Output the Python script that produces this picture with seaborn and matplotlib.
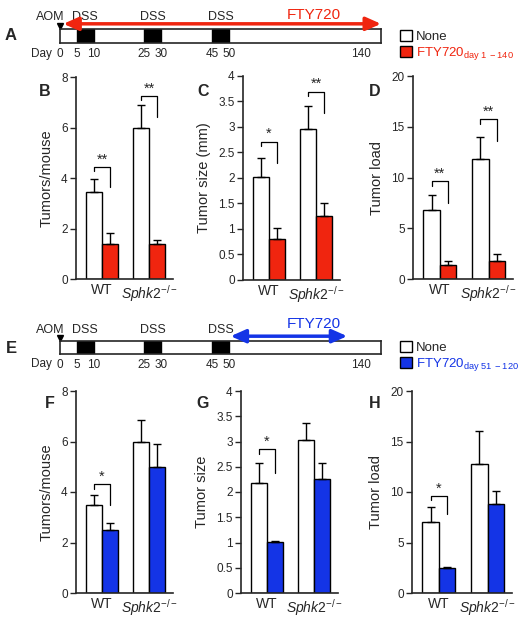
import numpy as np
import pandas as pd
import seaborn as sns
import matplotlib.pyplot as plt
from matplotlib.patches import Patch
from matplotlib.ticker import FuncFormatter


sns.set_style("ticks")
plt.rcParams['font.family'] = ['Liberation Sans', 'DejaVu Sans']
plt.rcParams['mathtext.fontset'] = 'custom'
plt.rcParams['mathtext.rm'] = 'Liberation Sans'
plt.rcParams['mathtext.it'] = 'Liberation Sans:italic'
plt.rcParams['axes.linewidth'] = 1.2

RED = '#f0250f'
BLUE = '#1434e6'

W, H = 526, 622

# timeline data (days)
DSS_START = [5, 25, 45]
DSS_END = [10, 30, 50]
DAY_TICKS = [0, 5, 10, 25, 30, 45, 50, 140]
FTY_DAYS_A = [1, 140]
FTY_DAYS_E = [51, 120]

GENOTYPES = ['WT', 'Sphk2']
GENO_LABELS = ['WT', r'$\mathit{Sphk2}^{-/-}$']

# B - tumors/mouse, FTY720 day 1-140
B_none = [3.45, 6.0]
B_none_err = [0.52, 0.9]
B_fty = [1.4, 1.38]
B_fty_err = [0.42, 0.17]
# C - tumor size (mm)
C_none = [2.02, 2.97]
C_none_err = [0.38, 0.45]
C_fty = [0.81, 1.26]
C_fty_err = [0.2, 0.25]
# D - tumor load
D_none = [6.75, 11.85]
D_none_err = [1.55, 2.15]
D_fty = [1.4, 1.8]
D_fty_err = [0.4, 0.65]

# F - tumors/mouse, FTY720 day 51-120
F_none = [3.5, 6.0]
F_none_err = [0.38, 0.85]
F_fty = [2.5, 5.0]
F_fty_err = [0.28, 0.92]
# G - tumor size
G_none = [2.17, 3.03]
G_none_err = [0.4, 0.33]
G_fty = [1.01, 2.25]
G_fty_err = [0.01, 0.32]
# H - tumor load
H_none = [7.05, 12.8]
H_none_err = [1.5, 3.2]
H_fty = [2.5, 8.8]
H_fty_err = [0.1, 1.25]

# significance brackets: (genotype index, top y, right leg bottom y, stars)
B_sig = [(0, 4.44, 3.64, '**'), (1, 7.25, 6.4, '**')]
C_sig = [(0, 2.71, 2.3, '*'), (1, 3.69, 3.27, '**')]
D_sig = [(0, 9.65, 7.5, '**'), (1, 15.75, 13.6, '**')]
F_sig = [(0, 4.3, 3.5, '*')]
G_sig = [(0, 2.85, 2.38, '*')]
H_sig = [(0, 9.6, 7.8, '*')]


fig = plt.figure(figsize=(W / 100, H / 100), dpi=100)


def px_rect(left, top, right, bottom):
    return [left / W, 1 - bottom / H, (right - left) / W, (bottom - top) / H]


def day_pos(d):
    # broken time scale: days after 50 are squeezed
    return np.interp(d, [0, 50, 120, 140], [0, 50, 85, 89])


def timeline(rect, letter_xy, fty_days, color, text_y, legend_label, legend_top):
    ax = fig.add_axes(rect)
    ax.set_xlim(0, 95)
    ax.set_ylim(0, 1)
    for s, e in zip(DSS_START, DSS_END):
        ax.axvspan(day_pos(s), day_pos(e), color='black')
        ax.text(day_pos((s + e) / 2), 1.85, 'DSS', ha='center', va='center', fontsize=9)
    ax.set_xticks(day_pos(DAY_TICKS))
    ax.set_xticklabels([str(d) for d in DAY_TICKS], fontsize=8.5)
    ax.tick_params(axis='x', length=0, pad=3.5)
    ax.set_yticks([])
    ax.text(-5.6, -0.8, 'Day', ha='center', va='center', fontsize=8.5)
    # AOM injection
    ax.plot(0, 1.25, marker='v', color='black', markersize=5, clip_on=False)
    ax.text(-2.8, 1.85, 'AOM', ha='center', va='center', fontsize=9)
    # FTY720 period
    start = day_pos(fty_days[0])
    end = day_pos(fty_days[1]) if fty_days[1] < 140 else ax.get_xlim()[1]
    ax.annotate('', xy=(end, 1.37), xytext=(start, 1.37), annotation_clip=False,
                arrowprops=dict(arrowstyle='<|-|>,head_length=0.9,head_width=0.4',
                                color=color, lw=2.5, shrinkA=0, shrinkB=0, mutation_scale=10))
    ax.text(75, text_y, 'FTY720', ha='center', va='center', fontsize=11, color=color)
    fig.text(letter_xy[0] / W, 1 - letter_xy[1] / H, letter_xy[2], ha='center', va='center',
             fontsize=12, weight='bold')
    # legend
    handles = [Patch(facecolor='white', edgecolor='black', linewidth=1),
               Patch(facecolor=color, edgecolor='black', linewidth=1)]
    leg = fig.legend(handles, ['None', legend_label], loc='upper left',
                     bbox_to_anchor=(400 / W, 1 - legend_top / H), frameon=False,
                     handlelength=0.9, handleheight=0.9, handletextpad=0.3,
                     labelspacing=0.15, borderaxespad=0, borderpad=0, fontsize=9.5)
    leg.get_texts()[1].set_color(color)


def bar_panel(rect, letter_xy, none_vals, none_err, fty_vals, fty_err, color,
              top, step, ylabel, sig):
    ax = fig.add_axes(rect)
    df = pd.DataFrame({'genotype': GENOTYPES * 2,
                       'treatment': ['None'] * 2 + ['FTY720'] * 2,
                       'value': none_vals + fty_vals})
    sns.barplot(data=df, x='genotype', y='value', hue='treatment',
                hue_order=['None', 'FTY720'], palette={'None': 'white', 'FTY720': color},
                saturation=1, edgecolor='black', linewidth=1, width=0.67, errorbar=None,
                legend=False, ax=ax)

    # one-sided error bars (upper only)
    centers = []
    for container, vals, errs in zip(ax.containers, [none_vals, fty_vals], [none_err, fty_err]):
        xs = [p.get_x() + p.get_width() / 2 for p in container]
        centers.append(xs)
        ax.errorbar(xs, vals, yerr=[np.zeros(len(vals)), errs], fmt='none',
                    ecolor='black', elinewidth=1, capsize=3, capthick=1, zorder=3)

    # significance brackets
    for g, y_top, y_right, stars in sig:
        x0, x1 = centers[0][g], centers[1][g]
        leg = top * 0.022
        ax.plot([x0, x0, x1, x1], [y_top - leg, y_top, y_top, y_right],
                color='black', lw=0.9, clip_on=False)
        ax.text((x0 + x1) / 2, y_top + top * 0.003, stars, ha='center', va='bottom',
                fontsize=10.5)

    ax.set_xlim(-0.55, 1.5)
    ax.set_ylim(0, top)
    ax.set_yticks(np.arange(0, top + step / 2, step))
    ax.yaxis.set_major_formatter(FuncFormatter(lambda v, p: '%g' % v))
    ax.set_xticks([0, 1])
    ax.set_xticklabels(GENO_LABELS, fontsize=10)
    ax.tick_params(axis='x', length=0, pad=3)
    ax.tick_params(axis='y', length=4, width=1, labelsize=8.5, pad=2)
    ax.set_xlabel('')
    ax.set_ylabel(ylabel, fontsize=10.5, labelpad=5)
    sns.despine(ax=ax)
    fig.text(letter_xy[0] / W, 1 - letter_xy[1] / H, letter_xy[2], ha='center', va='center',
             fontsize=11.5, weight='bold')


def visualization():
    timeline(px_rect(60, 29, 381, 43), (11, 35, 'A'), FTY_DAYS_A, RED, 2.0,
             r'FTY720$_{\mathrm{day\ 1\ -140}}$', 30)
    bar_panel(px_rect(76, 77, 173, 279), (45, 92, 'B'), B_none, B_none_err, B_fty, B_fty_err,
              RED, 8, 2, 'Tumors/mouse', B_sig)
    bar_panel(px_rect(243, 76, 340, 280), (203, 92, 'C'), C_none, C_none_err, C_fty, C_fty_err,
              RED, 4, 0.5, 'Tumor size (mm)', C_sig)
    bar_panel(px_rect(413, 76, 513, 279), (375, 91, 'D'), D_none, D_none_err, D_fty, D_fty_err,
              RED, 20, 5, 'Tumor load', D_sig)

    timeline(px_rect(60, 341, 381, 354), (11, 349, 'E'), FTY_DAYS_E, BLUE, 2.3,
             r'FTY720$_{\mathrm{day\ 51\ -120}}$', 341)
    bar_panel(px_rect(76, 391, 173, 593), (50, 403, 'F'), F_none, F_none_err, F_fty, F_fty_err,
              BLUE, 8, 2, 'Tumors/mouse', F_sig)
    bar_panel(px_rect(241, 391, 338, 593), (203, 403, 'G'), G_none, G_none_err, G_fty, G_fty_err,
              BLUE, 4, 0.5, 'Tumor size', G_sig)
    bar_panel(px_rect(412, 391, 512, 593), (375, 403, 'H'), H_none, H_none_err, H_fty, H_fty_err,
              BLUE, 20, 5, 'Tumor load', H_sig)

    plt.savefig('out.png', dpi=100)


visualization()
